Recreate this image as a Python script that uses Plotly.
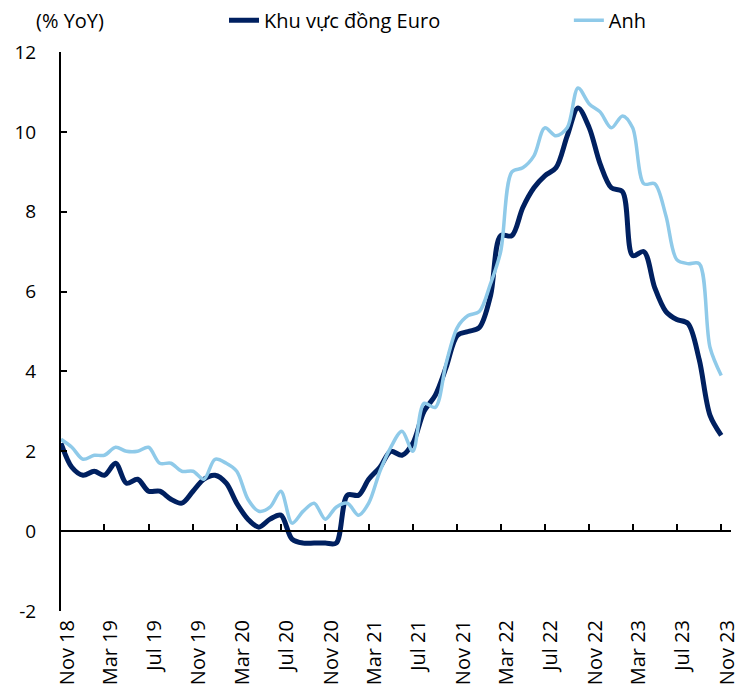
import plotly.graph_objects as go
import pandas as pd

months = pd.date_range("2018-11-01", "2023-11-01", freq="MS")

euro = [2.2, 1.6, 1.4, 1.5, 1.4, 1.7, 1.2, 1.3, 1.0, 1.0, 0.8, 0.7,
        1.0, 1.3, 1.4, 1.2, 0.7, 0.3, 0.1, 0.3, 0.4, -0.2, -0.3, -0.3,
        -0.3, -0.3, 0.9, 0.9, 1.3, 1.6, 2.0, 1.9, 2.2, 3.0, 3.4, 4.1,
        4.9, 5.0, 5.1, 5.9, 7.4, 7.4, 8.1, 8.6, 8.9, 9.1, 9.9, 10.6,
        10.1, 9.2, 8.6, 8.5, 6.9, 7.0, 6.1, 5.5, 5.3, 5.2, 4.3, 2.9,
        2.4]

uk = [2.3, 2.1, 1.8, 1.9, 1.9, 2.1, 2.0, 2.0, 2.1, 1.7, 1.7, 1.5,
      1.5, 1.3, 1.8, 1.7, 1.5, 0.8, 0.5, 0.6, 1.0, 0.2, 0.5, 0.7,
      0.3, 0.6, 0.7, 0.4, 0.7, 1.5, 2.1, 2.5, 2.0, 3.2, 3.1, 4.2,
      5.1, 5.4, 5.5, 6.2, 7.0, 9.0, 9.1, 9.4, 10.1, 9.9, 10.1, 11.1,
      10.7, 10.5, 10.1, 10.4, 10.1, 8.7, 8.7, 7.9, 6.8, 6.7, 6.7, 4.6,
      3.9]

series_names = ["Khu vực đồng Euro", "Anh"]
y_range = [-2, 12]
y_ticks = [-2, 0, 2, 4, 6, 8, 10, 12]
y_tick_text = ["-2", "0", "2", "4", "6", "8", "10", "12"]

FONT = "Open Sans"
NAVY = "#002060"
LIGHT = "#8FCAE9"

fig = go.Figure()
fig.add_trace(go.Scatter(
    x=months, y=euro, name=series_names[0], mode="lines",
    line=dict(color=NAVY, width=5, shape="spline", smoothing=0.9),
    xaxis="x", yaxis="y", legend="legend"))
fig.add_trace(go.Scatter(
    x=months, y=uk, name=series_names[1], mode="lines",
    line=dict(color=LIGHT, width=3.5, shape="spline", smoothing=0.9),
    xaxis="x2", yaxis="y", legend="legend2"))

x_range = ["2018-11-01", "2023-11-28"]
zero_pos = (0 - y_range[0]) / (y_range[1] - y_range[0])

legend_common = dict(orientation="h", yanchor="middle", xanchor="left",
                     font=dict(family=FONT, size=20, color="#000000"),
                     bgcolor="rgba(0,0,0,0)", borderwidth=0)

fig.update_layout(
    width=754, height=690,
    margin=dict(l=53, r=31, t=44, b=87, autoexpand=False),
    paper_bgcolor="white", plot_bgcolor="white",
    font=dict(family=FONT, size=18, color="#000000"),
    showlegend=True,
    legend=dict(x=0.2433, y=1.057, **legend_common),
    legend2=dict(x=0.758, y=1.057, **legend_common),
    xaxis=dict(type="date", range=x_range, anchor="free", position=zero_pos,
               showline=True, linecolor="black", linewidth=2,
               ticks="inside", ticklen=6, tickwidth=2, tickcolor="black",
               tick0="2018-11-01", dtick="M4", showticklabels=False,
               showgrid=False, zeroline=False),
    xaxis2=dict(type="date", overlaying="x", matches="x", anchor="y", side="bottom",
                showline=False, ticks="", showticklabels=True, tickangle=-90,
                tickformat="%b %y", tick0="2018-11-01", dtick="M4",
                ticklabelstandoff=4, ticklabelshift=6,
                tickfont=dict(family=FONT, size=20, color="#000000"),
                showgrid=False, zeroline=False),
    yaxis=dict(range=y_range, tickmode="array", tickvals=y_ticks, ticktext=y_tick_text,
               showline=True, linecolor="black",
               linewidth=2, ticks="inside", ticklen=6, tickwidth=2, tickcolor="black",
               showgrid=False, zeroline=False, ticklabelstandoff=19,
               tickfont=dict(family=FONT, size=19, color="#000000")),
    annotations=[dict(text="(% YoY)", xref="paper", yref="paper", x=-0.0403, y=1.0565,
                      xanchor="left", yanchor="middle", showarrow=False,
                      font=dict(family=FONT, size=20, color="#000000"))],
)

fig.write_html("out.html")
